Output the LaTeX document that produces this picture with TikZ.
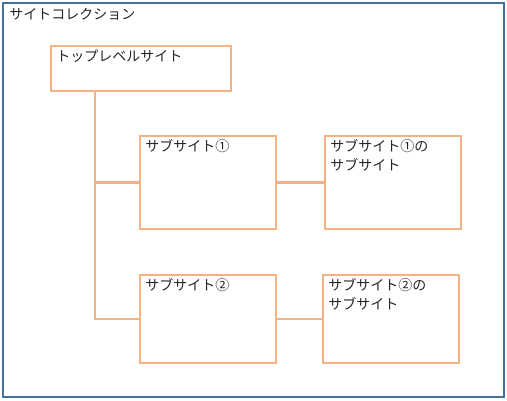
\documentclass[tikz,border=0pt]{standalone}
\usepackage{fontspec}
\setmainfont{Noto Sans CJK JP}
\usetikzlibrary{calc}
\definecolor{frameblue}{HTML}{41719C}
\definecolor{siteorange}{HTML}{F4B183}
\definecolor{textgray}{HTML}{262626}

\begin{document}
\begin{tikzpicture}[x = 0.75pt, y = -0.75pt,
		sitebox/.style = {draw = siteorange, line width = 2.2pt, rectangle, minimum width = 102pt},
		plaintext/.style = {anchor = north west, inner sep = 0pt, align = left, text = textgray,
			font = \fontsize{10.5}{14.25}\selectfont},
		sitetext/.style = {plaintext, xshift = 5pt, yshift = -3.5pt},
		link/.style = {draw = siteorange, line width = 2.2pt}]
	\useasboundingbox (0,0) rectangle (507,400);
	\begin{scope}
		\draw [frameblue, line width = 1.6pt] (3,3) rectangle (504,397);
		\node [plaintext] (collection) at (9,7.5) {サイトコレクション};
	\end{scope}
	\begin{scope}
		\node [sitebox, minimum width = 135pt, minimum height = 33.75pt,
			label = {[sitetext]north west:トップレベルサイト}] (top) at (141,68.5) {};
		\node [sitebox, minimum height = 69.75pt,
			label = {[sitetext]north west:サブサイト①}] (sub1) at (208,182.5) {};
		\node [sitebox, minimum height = 66pt,
			label = {[sitetext]north west:サブサイト②}] (sub2) at (208,319) {};
		\node [sitebox, minimum height = 69.75pt,
			label = {[sitetext]north west:{サブサイト①の\\サブサイト}}] (sub1sub) at (393,182.5) {};
		\node [sitebox, minimum height = 66pt,
			label = {[sitetext]north west:{サブサイト②の\\サブサイト}}] (sub2sub) at (391,319) {};
	\end{scope}
	\begin{scope}[link]
		\coordinate (trunk) at (95,0);
		\draw (top.south -| trunk) |- (sub2.west);
		\draw (sub1.west -| trunk) -- (sub1.west);
		\draw (sub1) -- (sub1sub);
		\draw (sub2) -- (sub2sub);
	\end{scope}
\end{tikzpicture}
\end{document}
